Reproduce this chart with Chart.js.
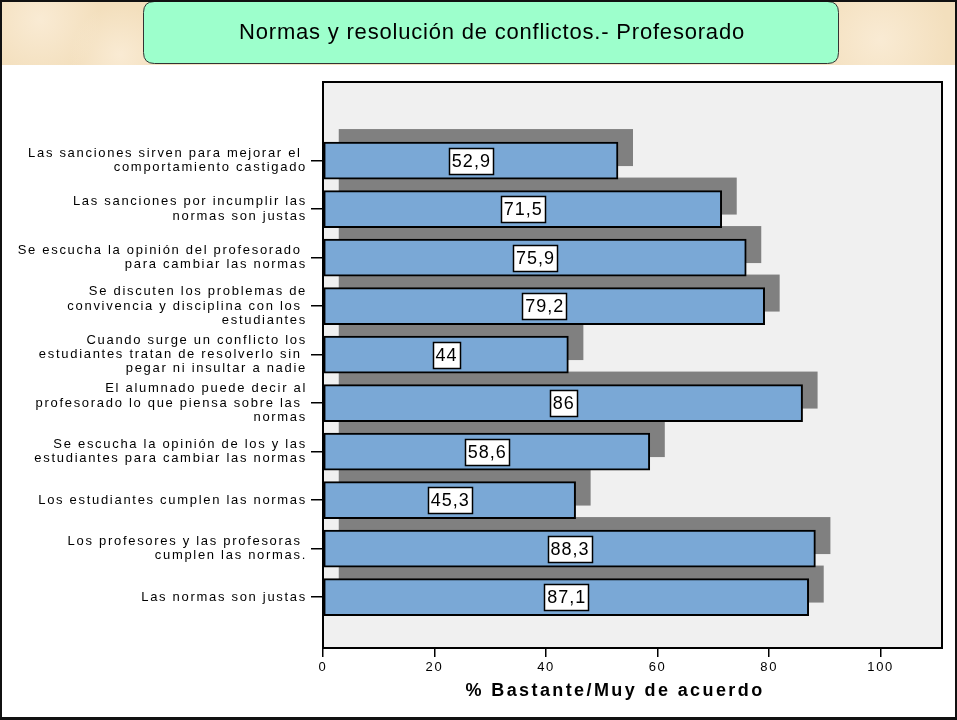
<!DOCTYPE html>
<html>
<head>
<meta charset="utf-8">
<title>Normas y resolución de conflictos.- Profesorado</title>
<script src="https://cdn.jsdelivr.net/npm/chart.js@4.4.1/dist/chart.umd.min.js"></script>
<style>
  html, body { margin: 0; padding: 0; background: #fff; }
  canvas { display: block; }
</style>
</head>
<body>
<canvas id="normasChart" width="957" height="720"></canvas>
<script>
const chartTitle = "Normas y resolución de conflictos.- Profesorado";
const axisTitle = "% Bastante/Muy de acuerdo";

// one entry per bar, top to bottom; inner arrays are the wrapped lines
const categories = [
  ["Las sanciones sirven para mejorar el ", "comportamiento castigado"],
  ["Las sanciones por incumplir las", "normas son justas"],
  ["Se escucha la opinión del profesorado ", "para cambiar las normas"],
  ["Se discuten los problemas de", "convivencia y disciplina con los ", "estudiantes"],
  ["Cuando surge un conflicto los", "estudiantes tratan de resolverlo sin ", "pegar ni insultar a nadie"],
  ["El alumnado puede decir al", "profesorado lo que piensa sobre las ", "normas"],
  ["Se escucha la opinión de los y las", "estudiantes para cambiar las normas"],
  ["Los estudiantes cumplen las normas"],
  ["Los profesores y las profesoras ", "cumplen las normas."],
  ["Las normas son justas"]
];
const values = [52.9, 71.5, 75.9, 79.2, 44, 86, 58.6, 45.3, 88.3, 87.1];
const xTicks = [0, 20, 40, 60, 80, 100];

const FONT = "'Liberation Sans', Arial, sans-serif";
const BAR_BLUE = "#7aa8d6";
const SHADOW = "#808080";
const PLOT_BG = "#f0f0f0";

function roundRect(ctx, x, y, w, h, r) {
  ctx.beginPath();
  ctx.moveTo(x + r, y);
  ctx.lineTo(x + w - r, y);
  ctx.quadraticCurveTo(x + w, y, x + w, y + r);
  ctx.lineTo(x + w, y + h - r);
  ctx.quadraticCurveTo(x + w, y + h, x + w - r, y + h);
  ctx.lineTo(x + r, y + h);
  ctx.quadraticCurveTo(x, y + h, x, y + h - r);
  ctx.lineTo(x, y + r);
  ctx.quadraticCurveTo(x, y, x + r, y);
  ctx.closePath();
}

// slide background, heading box and the grey plot frame
const slideFrame = {
  id: "slideFrame",
  beforeDraw(chart) {
    const ctx = chart.ctx;
    const area = chart.chartArea;
    ctx.save();
    ctx.fillStyle = "#ffffff";
    ctx.fillRect(0, 0, chart.width, chart.height);

    // parchment strip along the top
    ctx.fillStyle = "#f3dfbd";
    ctx.fillRect(0, 0, chart.width, 65);
    const spots = [[40, 20, 60], [250, 45, 80], [600, 15, 90], [880, 40, 70], [120, 55, 50], [720, 55, 60]];
    spots.forEach(([sx, sy, sr]) => {
      const g = ctx.createRadialGradient(sx, sy, 0, sx, sy, sr);
      g.addColorStop(0, "rgba(250,236,214,0.9)");
      g.addColorStop(1, "rgba(250,236,214,0)");
      ctx.fillStyle = g;
      ctx.fillRect(sx - sr, Math.max(0, sy - sr), sr * 2, Math.min(65, sy + sr) - Math.max(0, sy - sr));
    });

    // heading box
    roundRect(ctx, 143.5, 1.5, 695, 62, 11);
    ctx.fillStyle = "#9dffcc";
    ctx.fill();
    ctx.strokeStyle = "#333";
    ctx.lineWidth = 1;
    ctx.stroke();
    ctx.fillStyle = "#000";
    ctx.font = "22px " + FONT;
    ctx.textAlign = "center";
    ctx.textBaseline = "middle";
    ctx.letterSpacing = "0.8px";
    ctx.fillText(chartTitle, 492, 33);
    ctx.letterSpacing = "0px";

    // plot frame
    ctx.fillStyle = PLOT_BG;
    ctx.fillRect(area.left, area.top, area.right - area.left, area.bottom - area.top);
    ctx.strokeStyle = "#000";
    ctx.lineWidth = 2;
    ctx.strokeRect(area.left, area.top, area.right - area.left, area.bottom - area.top);

    // outer border
    ctx.fillStyle = "#111";
    ctx.fillRect(0, 0, chart.width, 2);
    ctx.fillRect(0, chart.height - 3, chart.width, 3);
    ctx.fillRect(0, 0, 2, chart.height);
    ctx.fillRect(chart.width - 2, 0, 2, chart.height);
    ctx.restore();

    // tick labels are drawn slightly spaced out
    ctx.letterSpacing = "1.7px";
  },
  beforeDatasetsDraw(chart) {
    const ctx = chart.ctx;
    const meta = chart.getDatasetMeta(0);
    ctx.save();
    ctx.fillStyle = SHADOW;
    meta.data.forEach(bar => {
      const p = bar.getProps(["x", "y", "base", "height"], true);
      ctx.fillRect(p.base + 15, p.y - p.height / 2 - 13, p.x - p.base, p.height);
    });
    ctx.restore();
  },
  afterDatasetsDraw(chart) {
    const ctx = chart.ctx;
    const meta = chart.getDatasetMeta(0);
    ctx.save();
    ctx.font = "18px " + FONT;
    ctx.letterSpacing = "1px";
    ctx.textAlign = "center";
    ctx.textBaseline = "middle";
    meta.data.forEach((bar, i) => {
      const p = bar.getProps(["x", "y", "base"], true);
      const txt = String(values[i]).replace(".", ",");
      const cx = (p.base + p.x) / 2;
      const w = ctx.measureText(txt).width + 5;
      const h = 26;
      ctx.fillStyle = "#fff";
      ctx.fillRect(Math.round(cx - w / 2) + 0.5, Math.round(p.y - h / 2) + 0.5, Math.round(w), h);
      ctx.strokeStyle = "#000";
      ctx.lineWidth = 1.5;
      ctx.strokeRect(Math.round(cx - w / 2) + 0.5, Math.round(p.y - h / 2) + 0.5, Math.round(w), h);
      ctx.fillStyle = "#000";
      ctx.fillText(txt, cx + 0.5, p.y + 1);
    });
    ctx.restore();
  },
  afterDraw(chart) {
    const ctx = chart.ctx;
    ctx.save();
    ctx.font = "bold 18px " + FONT;
    ctx.letterSpacing = "2.4px";
    ctx.fillStyle = "#000";
    ctx.textAlign = "center";
    ctx.textBaseline = "middle";
    ctx.fillText(axisTitle, 615, 691);
    ctx.restore();
    ctx.letterSpacing = "0px";
  }
};

new Chart(document.getElementById("normasChart"), {
  type: "bar",
  data: {
    datasets: [{
      data: values.map((v, i) => ({ x: v, y: i })),
      backgroundColor: BAR_BLUE,
      borderColor: "#000",
      borderWidth: 2,
      borderSkipped: false,
      barThickness: 37
    }]
  },
  options: {
    responsive: false,
    animation: false,
    devicePixelRatio: 1,
    indexAxis: "y",
    layout: { padding: { top: 82, right: 15, bottom: 0, left: 0 } },
    plugins: {
      legend: { display: false },
      tooltip: { enabled: false }
    },
    scales: {
      x: {
        type: "linear",
        min: 0,
        max: 111,
        afterBuildTicks: s => { s.ticks = xTicks.map(v => ({ value: v })); },
        afterFit: s => { s.height = 72; },
        border: { display: false },
        grid: { drawOnChartArea: false, tickLength: 9, color: "#000", lineWidth: 1.5 },
        ticks: { color: "#000", font: { family: FONT, size: 13 }, padding: 3, maxRotation: 0, autoSkip: false }
      },
      y: {
        type: "linear",
        reverse: true,
        offset: false,
        min: -1.62,
        max: 10.05,
        afterBuildTicks: s => { s.ticks = categories.map((c, i) => ({ value: i })); },
        afterFit: s => { s.width = 323; },
        border: { display: false },
        grid: { offset: false, drawOnChartArea: false, tickLength: 12, color: "#000", lineWidth: 1.5 },
        ticks: {
          color: "#000",
          font: { family: FONT, size: 13, lineHeight: 1.1 },
          padding: 4,
          autoSkip: false,
          callback: v => categories[v]
        }
      }
    }
  },
  plugins: [slideFrame]
});
</script>
</body>
</html>
